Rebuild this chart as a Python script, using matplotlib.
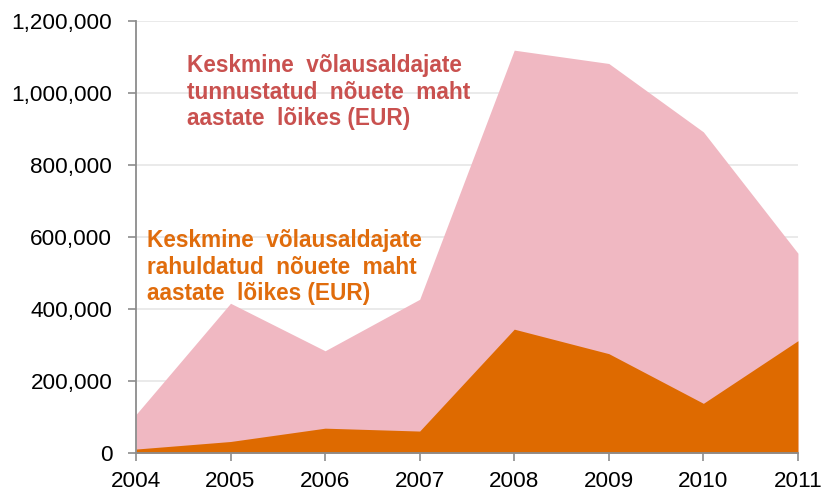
import matplotlib.pyplot as plt
from matplotlib.ticker import FuncFormatter

plt.rcParams['font.family'] = ['Liberation Sans', 'DejaVu Sans']

years = [2004, 2005, 2006, 2007, 2008, 2009, 2010, 2011]
tunnustatud = [107000, 416000, 284000, 427000, 1119000, 1082000, 892000, 555000]
rahuldatud = [11000, 32000, 69000, 61000, 344000, 276000, 138000, 312000]

fig = plt.figure(figsize=(8.25, 4.93), dpi=100)
ax = fig.add_axes([0.1648, 0.0811, 0.8024, 0.8763])

ax.fill_between(years, 0, tunnustatud, color='#F0B8C2', linewidth=0, zorder=2)
ax.fill_between(years, 0, rahuldatud, color='#DE6A00', linewidth=0, zorder=3)

ax.set_xlim(2004, 2011)
ax.set_ylim(0, 1200000)
ax.set_xticks(years)
ax.set_yticks(range(0, 1200001, 200000))
ax.yaxis.set_major_formatter(FuncFormatter(lambda v, p: f'{int(v):,}'))

ax.grid(axis='y', color='#E6E6E6', linewidth=1.2, zorder=0)
ax.set_axisbelow(True)
for s in ['top', 'right']:
    ax.spines[s].set_visible(False)
for s in ['left', 'bottom']:
    ax.spines[s].set_color('#8C8C8C')
    ax.spines[s].set_linewidth(1.3)
    ax.spines[s].set_zorder(5)
ax.tick_params(axis='both', colors='#8C8C8C', length=6, width=1.2, labelsize=16.2,
               labelcolor='black')
ax.tick_params(axis='x', pad=7)
ax.tick_params(axis='y', pad=11)

ax.text(2004.54, 1108000, 'Keskmine  võlausaldajate\ntunnustatud  nõuete  maht\naastate  lõikes (EUR)',
        color='#C9514F', fontsize=16.3, fontweight='bold', va='top', ha='left',
        linespacing=1.2, zorder=6)
ax.text(2004.12, 622000, 'Keskmine  võlausaldajate\nrahuldatud  nõuete  maht\naastate  lõikes (EUR)',
        color='#E06C0C', fontsize=16.3, fontweight='bold', va='top', ha='left',
        linespacing=1.2, zorder=6)

fig.savefig('out.png', dpi=100)
